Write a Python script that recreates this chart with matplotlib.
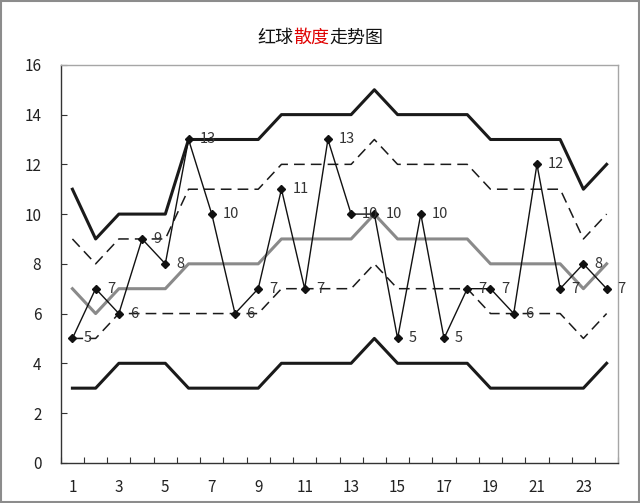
import matplotlib
matplotlib.use("Agg")
import matplotlib.pyplot as plt
from matplotlib.patches import Rectangle

plt.rcParams['font.family'] = ['Noto Sans CJK SC', 'DejaVu Sans']

periods = list(range(1, 25))
actual = [5, 7, 6, 9, 8, 13, 10, 6, 7, 11, 7, 13, 10, 10, 5, 10, 5, 7, 7, 6, 12, 7, 8, 7]
upper_max = [11, 9, 10, 10, 10, 13, 13, 13, 13, 14, 14, 14, 14, 15, 14, 14, 14, 14, 13, 13, 13, 13, 11, 12]
upper_dash = [9, 8, 9, 9, 9, 11, 11, 11, 11, 12, 12, 12, 12, 13, 12, 12, 12, 12, 11, 11, 11, 11, 9, 10]
mean_line = [7, 6, 7, 7, 7, 8, 8, 8, 8, 9, 9, 9, 9, 10, 9, 9, 9, 9, 8, 8, 8, 8, 7, 8]
lower_dash = [5, 5, 6, 6, 6, 6, 6, 6, 6, 7, 7, 7, 7, 8, 7, 7, 7, 7, 6, 6, 6, 6, 5, 6]
lower_min = [3, 3, 4, 4, 4, 3, 3, 3, 3, 4, 4, 4, 4, 5, 4, 4, 4, 4, 3, 3, 3, 3, 3, 4]
x_labels = [str(p) for p in periods[::2]]
y_ticks = list(range(0, 17, 2))

fig = plt.figure(figsize=(6.4, 5.03), dpi=100)
fig.patches.append(Rectangle((0.001, 0.001), 0.998, 0.997, transform=fig.transFigure,
                             fill=False, edgecolor='#8c8c8c', linewidth=1.5))
ax = fig.add_axes([0.095, 0.080, 0.871, 0.791])

ax.plot(periods, upper_max, color='#1a1a1a', linewidth=2.2, zorder=2)
ax.plot(periods, lower_min, color='#1a1a1a', linewidth=2.2, zorder=2)
ax.plot(periods, upper_dash, color='#1a1a1a', linewidth=1.1, dashes=(7, 4), zorder=2)
ax.plot(periods, lower_dash, color='#1a1a1a', linewidth=1.1, dashes=(7, 4), zorder=2)
ax.plot(periods, mean_line, color='#8a8a8a', linewidth=2.2, zorder=2)
ax.plot(periods, actual, color='#111111', linewidth=1.0, marker='D', markersize=4.5,
        markerfacecolor='#111111', markeredgecolor='#111111', zorder=3)

for p, v in zip(periods, actual):
    ax.annotate(str(v), (p, v), xytext=(8, 0), textcoords='offset points',
                va='center', ha='left', fontsize=10.5, color='#333333', zorder=4)

ax.set_xlim(0.5, 24.5)
ax.set_ylim(0, 16)
ax.set_yticks(y_ticks)
ax.set_xticks([p - 0.5 for p in periods] + [24.5])
ax.set_xticklabels([])
ax.set_xticks(periods[::2], minor=True)
ax.set_xticklabels(x_labels, minor=True)
ax.tick_params(axis='x', which='major', direction='in', length=4, color='#333333')
ax.tick_params(axis='x', which='minor', length=0, pad=12, labelsize=11, labelcolor='#222222')
ax.tick_params(axis='y', direction='in', length=4, color='#333333', pad=14,
               labelsize=11, labelcolor='#222222')

for side in ['left', 'bottom']:
    ax.spines[side].set_color('#333333')
    ax.spines[side].set_linewidth(1.0)
for side in ['top', 'right']:
    ax.spines[side].set_color('#a6a6a6')
    ax.spines[side].set_linewidth(1.0)

# two-colour title
parts = [('红球', '#111111'), ('散度', '#e00000'), ('走势图', '#111111')]
renderer = fig.canvas.get_renderer()
texts = []
widths = []
for s, c in parts:
    t = fig.text(0, 0.925, s, color=c, fontsize=13, va='center', ha='left')
    widths.append(t.get_window_extent(renderer).width)
    texts.append(t)
total = sum(widths)
x0 = (0.5 * fig.bbox.width - total / 2)
for t, w in zip(texts, widths):
    t.set_x(x0 / fig.bbox.width)
    x0 += w

fig.savefig('out.png', dpi=100)
